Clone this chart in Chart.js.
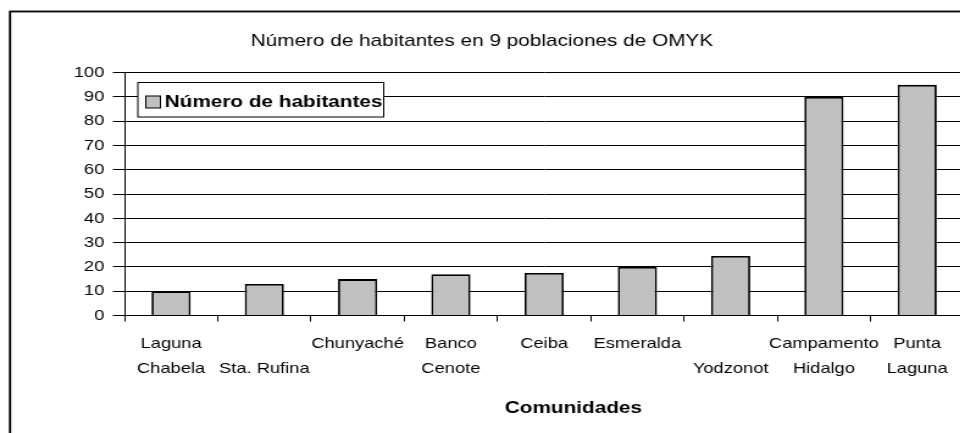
<!DOCTYPE html>
<html>
<head>
<meta charset="utf-8">
<script src="https://cdn.jsdelivr.net/npm/chart.js@4.4.1/dist/chart.umd.min.js"></script>
<style>
  html, body { margin: 0; padding: 0; background: #fff; overflow: hidden; }
  /* the reference is stretched horizontally, so draw narrow and scale */
  #wrap { position: relative; width: 790px; height: 433px; transform: scaleX(1.22); transform-origin: 0 0; }
</style>
</head>
<body>
<div id="wrap"><canvas id="chart"></canvas></div>
<script>
const chartTitle = 'Número de habitantes en 9 poblaciones de OMYK'
const seriesName = 'Número de habitantes'
const axisTitle = 'Comunidades'
const communities = [
  ['Laguna', 'Chabela'],
  ['', 'Sta. Rufina'],
  ['Chunyaché'],
  ['Banco', 'Cenote'],
  ['Ceiba'],
  ['Esmeralda'],
  ['', 'Yodzonot'],
  ['Campamento', 'Hidalgo'],
  ['Punta', 'Laguna']
]
const inhabitants = [10, 13, 15, 17, 17.5, 20, 24.5, 90, 95]
const yTicks = { min: 0, max: 100, step: 10 }

const font = "'Liberation Sans', Arial, sans-serif"
const barColor = '#c0c0c0'

// outer frame of the chart (right and bottom are cut off in the picture)
const framePlugin = {
  id: 'frame',
  beforeDraw(chart) {
    const ctx = chart.ctx
    ctx.save()
    ctx.strokeStyle = '#000'
    ctx.lineWidth = 1.8
    ctx.strokeRect(8.2, 11.5, chart.width + 50, chart.height + 50)
    ctx.restore()
  }
}

// boxed legend inside the plot area + axis title
const boxLegendPlugin = {
  id: 'boxLegend',
  afterDraw(chart) {
    const ctx = chart.ctx
    const ds = chart.data.datasets[0]
    ctx.save()
    ctx.fillStyle = '#fff'
    ctx.fillRect(113, 82.5, 201.5, 34.5)
    ctx.strokeStyle = '#000'
    ctx.lineWidth = 1
    ctx.strokeRect(113, 82.5, 201.5, 34.5)

    ctx.fillStyle = ds.backgroundColor
    ctx.fillRect(119.5, 96, 12, 12)
    ctx.strokeRect(119.5, 96, 12, 12)

    ctx.fillStyle = '#000'
    ctx.font = 'bold 17px ' + font
    ctx.textAlign = 'left'
    ctx.textBaseline = 'middle'
    ctx.fillText(ds.label, 135, 102)

    ctx.textAlign = 'center'
    ctx.textBaseline = 'alphabetic'
    ctx.fillText(axisTitle, 470, 412.5)
    ctx.restore()
  }
}

new Chart(document.getElementById('chart'), {
  type: 'bar',
  data: {
    labels: communities,
    datasets: [{
      label: seriesName,
      data: inhabitants,
      backgroundColor: barColor,
      borderColor: '#000',
      borderWidth: 1.8,
      barPercentage: 0.42,
      categoryPercentage: 1
    }]
  },
  options: {
    responsive: true,
    maintainAspectRatio: false,
    animation: false,
    layout: { padding: { left: 0, right: 0, top: 0, bottom: 42.5 } },
    plugins: {
      legend: { display: false },
      tooltip: { enabled: false },
      title: {
        display: true,
        text: chartTitle,
        color: '#000',
        font: { family: font, size: 17, weight: 'normal' },
        padding: { top: 30.8, bottom: 21.5 }
      }
    },
    scales: {
      x: {
        offset: true,
        grid: { display: true, drawOnChartArea: false, drawTicks: true, tickLength: 6, tickColor: '#000', offset: true },
        border: { display: true, color: '#000', width: 1 },
        ticks: {
          color: '#000',
          maxRotation: 0,
          autoSkip: false,
          padding: 9.5,
          font: { family: font, size: 15, lineHeight: '25px' }
        }
      },
      y: {
        min: yTicks.min,
        max: yTicks.max,
        afterFit(scale) { scale.width = 102 },
        grid: { color: '#000', lineWidth: 1, tickLength: 9.5, tickColor: '#000' },
        border: { display: true, color: '#000', width: 1 },
        ticks: {
          stepSize: yTicks.step,
          color: '#000',
          padding: 7,
          font: { family: font, size: 15 }
        }
      }
    }
  },
  plugins: [framePlugin, boxLegendPlugin]
})
</script>
</body>
</html>
